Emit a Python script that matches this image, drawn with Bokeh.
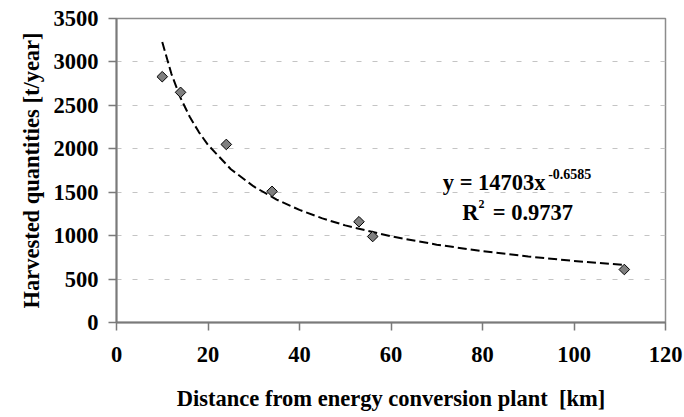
from bokeh.plotting import figure
from bokeh.models import SingleIntervalTicker, Label, ColumnDataSource
from bokeh.embed import file_html
from bokeh.resources import INLINE
import math

# Data
distance_km = [10, 14, 24, 34, 53, 56, 111]
harvest_t = [2830, 2650, 2050, 1510, 1160, 990, 610]

# Trend line (power fit shown on the chart)
trend_x = [10, 12, 14, 16, 18, 20, 25, 30, 35, 40, 45, 50, 60, 70, 80, 90, 100, 111]
trend_y = [3229, 2863, 2586, 2369, 2192, 2045, 1765, 1566, 1415, 1296, 1199, 1118,
           992, 896, 821, 760, 709, 662]

x_title = "Distance from energy conversion plant\u00a0 [km]"
y_title = "Harvested quantities [t/year]"
eq_main = "y = 14703x"
eq_exp = "-0.6585"
r2_r = "R"
r2_sup = "2"
r2_val = "= 0.9737"

FONT = "Liberation Serif"
FS = "22.5px"

p = figure(width=684, height=417, x_range=(0, 120), y_range=(0, 3500),
           output_backend="svg", toolbar_location=None,
           min_border_left=116, min_border_right=19, min_border_top=18, min_border_bottom=95)

p.background_fill_color = "white"
p.border_fill_color = "white"
p.outline_line_color = "#8c8c8c"
p.outline_line_width = 1.5

p.xaxis.ticker = SingleIntervalTicker(interval=20, num_minor_ticks=0)
p.yaxis.ticker = SingleIntervalTicker(interval=500, num_minor_ticks=0)

for ax in (p.xaxis[0], p.yaxis[0]):
    ax.axis_line_color = "#7a7a7a"
    ax.axis_line_width = 2
    ax.major_tick_line_color = "#7a7a7a"
    ax.major_tick_line_width = 1.5
    ax.major_tick_out = 8
    ax.major_tick_in = 0
    ax.minor_tick_line_color = None
    ax.major_label_text_font = FONT
    ax.major_label_text_font_style = "bold"
    ax.major_label_text_font_size = FS
    ax.major_label_text_color = "black"
    ax.axis_label_text_font = FONT
    ax.axis_label_text_font_style = "bold"
    ax.axis_label_text_font_size = FS
    ax.axis_label_text_color = "black"

p.xaxis.axis_label = x_title
p.yaxis.axis_label = y_title
p.xaxis.major_label_standoff = 16
p.xaxis.axis_label_standoff = 21
p.yaxis.major_label_standoff = 10
p.yaxis.axis_label_standoff = 7

p.xgrid.grid_line_color = None
p.ygrid.grid_line_color = "#c4c4c4"
p.ygrid.grid_line_dash = "5 11"
p.ygrid.grid_line_width = 1

p.line(trend_x, trend_y, line_color="black", line_width=2, line_dash="9 4")

src = ColumnDataSource(dict(x=distance_km, y=harvest_t))
p.scatter("x", "y", source=src, marker="square", size=7.5, angle=math.pi / 4,
          fill_color="#7f7f7f", line_color="black", line_width=1)

common = dict(text_font=FONT, text_font_style="bold", text_color="black",
              x_units="data", y_units="data", text_baseline="middle", text_align="left")

# trend-line equation
p.add_layout(Label(x=71.32, y=1612, text=eq_main, text_font_size=FS, **common))
p.add_layout(Label(x=94.36, y=1704, text=eq_exp, text_font_size="14px", **common))
p.add_layout(Label(x=75.56, y=1261, text=r2_r, text_font_size=FS, **common))
p.add_layout(Label(x=79.1, y=1370, text=r2_sup, text_font_size="12px", **common))
p.add_layout(Label(x=82.25, y=1261, text=r2_val, text_font_size=FS, **common))

open("out.html", "w").write(file_html(p, INLINE))
